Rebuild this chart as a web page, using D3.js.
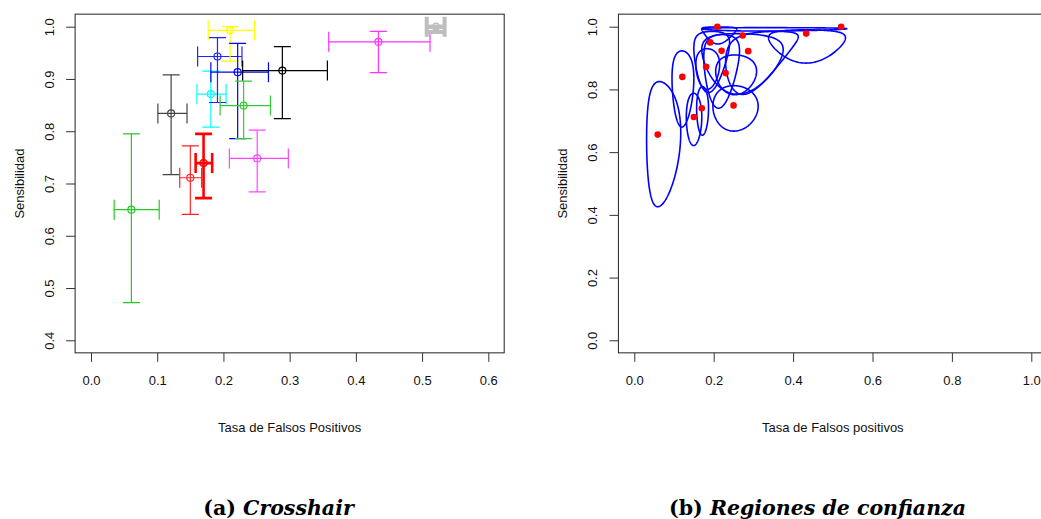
<!DOCTYPE html>
<html>
<head>
<meta charset="utf-8">
<script src="https://cdn.jsdelivr.net/npm/d3@7"></script>
<style>
  body { margin: 0; background: #fff; }
</style>
</head>
<body>
<svg width="1041" height="519"></svg>
<script>
// ---- panel (a): crosshair data, one entry per study
var fpr     = [0.061, 0.121, 0.150, 0.170, 0.181, 0.191, 0.210, 0.2215, 0.2305, 0.251, 0.289, 0.434, 0.521];
var fprLo   = [0.035, 0.101, 0.134, 0.158, 0.160, 0.161, 0.177, 0.181, 0.195, 0.209, 0.229, 0.359, 0.507];
var fprHi   = [0.103, 0.145, 0.167, 0.183, 0.204, 0.228, 0.247, 0.268, 0.271, 0.298, 0.357, 0.512, 0.534];
var sens    = [0.650, 0.834, 0.711, 0.739, 0.871, 0.943, 0.993, 0.913, 0.849, 0.748, 0.916, 0.971, 1.000];
var sensLo  = [0.472, 0.717, 0.641, 0.672, 0.808, 0.855, 0.934, 0.786, 0.786, 0.684, 0.824, 0.912, 0.990];
var sensHi  = [0.795, 0.908, 0.772, 0.795, 0.915, 0.979, 1.000, 0.968, 0.896, 0.802, 0.962, 0.991, 1.000];
var crossCol = ["#22cc22", "#444444", "#ff2222", "#ff0000", "#00ffff", "#2222ff", "#ffff00", "#0000ff", "#33cc33", "#ff44ff", "#000000", "#ff33ff", "#bebebe"];
var crossLw  = [1.2, 1.2, 1.2, 2.6, 1.2, 1.2, 1.2, 1.2, 1.2, 1.2, 1.2, 1.2, 4];

var xTicksA = [0, 0.1, 0.2, 0.3, 0.4, 0.5, 0.6];
var yTicksA = [0.4, 0.5, 0.6, 0.7, 0.8, 0.9, 1.0];

// ---- panel (b): point estimates and confidence regions
var ptFpr  = [0.059, 0.121, 0.150, 0.170, 0.181, 0.191, 0.209, 0.220, 0.230, 0.250, 0.273, 0.287, 0.433, 0.521];
var ptSens = [0.656, 0.840, 0.712, 0.740, 0.872, 0.950, 1.000, 0.923, 0.852, 0.749, 0.972, 0.922, 0.978, 1.000];
// region extents (fpr min/max, sens min/max) and logit-scale correlation
var regFprMin  = [0.031, 0.095, 0.131, 0.157, 0.155, 0.150, 0.170, 0.175, 0.205, 0.198, 0.230, 0.170, 0.338, 0.170];
var regFprMax  = [0.117, 0.150, 0.170, 0.187, 0.215, 0.240, 0.258, 0.265, 0.308, 0.312, 0.413, 0.375, 0.532, 0.535];
var regSensMin = [0.426, 0.680, 0.621, 0.654, 0.800, 0.790, 0.945, 0.740, 0.783, 0.667, 0.784, 0.785, 0.884, 0.986];
var regSensMax = [0.825, 0.923, 0.788, 0.809, 0.930, 0.985, 0.999, 0.975, 0.910, 0.812, 0.985, 0.978, 0.990, 0.997];
var regRho     = [0.05, 0, 0, 0, 0, 0.1, 0, 0.1, 0, 0, 0.46, 0, 0, 0];

var xTicksB = [0, 0.2, 0.4, 0.6, 0.8, 1.0];
var yTicksB = [0, 0.2, 0.4, 0.6, 0.8, 1.0];

var svg = d3.select("svg");
var fmt = d3.format(".1f");
var SANS = "Liberation Sans, Arial, sans-serif";

function frame(g, x, y, xTicks, yTicks, xd, yd, xlab, ylab) {
    // box
    g.append("rect")
        .attr("x", x(xd[0])).attr("y", y(yd[1]))
        .attr("width", x(xd[1]) - x(xd[0]))
        .attr("height", y(yd[0]) - y(yd[1]))
        .attr("fill", "none").attr("stroke", "#222").attr("stroke-width", 1);

    var ax = g.append("g")
        .attr("transform", "translate(0," + y(yd[0]) + ")")
        .call(d3.axisBottom(x).tickValues(xTicks).tickFormat(fmt).tickSize(9).tickPadding(14));
    ax.select(".domain").remove();
    ax.selectAll("line").attr("stroke", "#333");
    ax.selectAll("text").attr("font-size", 13).attr("fill", "#111").attr("font-family", SANS);

    var ay = g.append("g")
        .attr("transform", "translate(" + x(xd[0]) + ",0)")
        .call(d3.axisLeft(y).tickValues(yTicks).tickFormat(fmt).tickSize(9));
    ay.select(".domain").remove();
    ay.selectAll("line").attr("stroke", "#333");
    ay.selectAll("text")
        .attr("x", null).attr("dy", "0.35em")
        .attr("text-anchor", "middle")
        .attr("transform", "translate(-26,0) rotate(-90)")
        .attr("font-size", 13).attr("fill", "#111").attr("font-family", SANS);

    g.append("text")
        .attr("x", (x(xd[0]) + x(xd[1])) / 2).attr("y", 432)
        .attr("text-anchor", "middle").attr("font-size", 13).attr("fill", "#111")
        .attr("font-family", SANS)
        .text(xlab);
    var cy = (y(yd[0]) + y(yd[1])) / 2;
    g.append("text")
        .attr("transform", "translate(" + (x(xd[0]) - 56) + "," + cy + ") rotate(-90)")
        .attr("dy", "0.35em")
        .attr("text-anchor", "middle").attr("font-size", 13).attr("fill", "#111")
        .attr("font-family", SANS)
        .text(ylab);
}

// ---------- panel (a)
var xA = d3.scaleLinear().domain([0, 0.6]).range([91, 488.3]);
var yA = d3.scaleLinear().domain([0.4, 1.0]).range([340.3, 26.7]);
var gA = svg.append("g");
frame(gA, xA, yA, xTicksA, yTicksA, [-0.024, 0.624], [0.376, 1.024],
      "Tasa de Falsos Positivos", "Sensibilidad");

svg.append("clipPath").attr("id", "clipA").append("rect")
    .attr("x", xA(-0.024)).attr("y", yA(1.024))
    .attr("width", xA(0.624) - xA(-0.024)).attr("height", yA(0.376) - yA(1.024));

var cross = gA.append("g").attr("clip-path", "url(#clipA)")
    .selectAll("g").data(d3.range(fpr.length)).enter().append("g")
    .attr("stroke", function(i) { return crossCol[i]; })
    .attr("stroke-width", function(i) { return crossLw[i]; })
    .attr("fill", "none");

// horizontal bars with vertical caps
cross.append("line")
    .attr("x1", function(i) { return xA(fprLo[i]); }).attr("x2", function(i) { return xA(fprHi[i]); })
    .attr("y1", function(i) { return yA(sens[i]); }).attr("y2", function(i) { return yA(sens[i]); });
cross.append("line")
    .attr("x1", function(i) { return xA(fprLo[i]); }).attr("x2", function(i) { return xA(fprLo[i]); })
    .attr("y1", function(i) { return yA(sens[i]) - 10; }).attr("y2", function(i) { return yA(sens[i]) + 10; });
cross.append("line")
    .attr("x1", function(i) { return xA(fprHi[i]); }).attr("x2", function(i) { return xA(fprHi[i]); })
    .attr("y1", function(i) { return yA(sens[i]) - 10; }).attr("y2", function(i) { return yA(sens[i]) + 10; });
// vertical bars with horizontal caps
cross.append("line")
    .attr("x1", function(i) { return xA(fpr[i]); }).attr("x2", function(i) { return xA(fpr[i]); })
    .attr("y1", function(i) { return yA(sensLo[i]); }).attr("y2", function(i) { return yA(sensHi[i]); });
cross.append("line")
    .attr("x1", function(i) { return xA(fpr[i]) - 8.5; }).attr("x2", function(i) { return xA(fpr[i]) + 8.5; })
    .attr("y1", function(i) { return yA(sensLo[i]); }).attr("y2", function(i) { return yA(sensLo[i]); });
cross.append("line")
    .attr("x1", function(i) { return xA(fpr[i]) - 8.5; }).attr("x2", function(i) { return xA(fpr[i]) + 8.5; })
    .attr("y1", function(i) { return yA(sensHi[i]); }).attr("y2", function(i) { return yA(sensHi[i]); });
cross.append("circle")
    .attr("cx", function(i) { return xA(fpr[i]); })
    .attr("cy", function(i) { return yA(sens[i]); })
    .attr("r", 3.5)
    .attr("stroke-width", function(i) { return Math.min(crossLw[i], 1.5); });

// ---------- panel (b)
var xB = d3.scaleLinear().domain([0, 1]).range([634.3, 1031.3]);
var yB = d3.scaleLinear().domain([0, 1]).range([340.3, 26.7]);
var gB = svg.append("g");
frame(gB, xB, yB, xTicksB, yTicksB, [-0.04, 1.04], [-0.04, 1.04],
      "Tasa de Falsos positivos", "Sensibilidad");

var logit = function(p) { return Math.log(p / (1 - p)); };
var expit = function(v) { return 1 / (1 + Math.exp(-v)); };

function regionPoints(i) {
    var mx = (logit(regFprMin[i]) + logit(regFprMax[i])) / 2,
        sx = (logit(regFprMax[i]) - logit(regFprMin[i])) / 2,
        my = (logit(regSensMin[i]) + logit(regSensMax[i])) / 2,
        sy = (logit(regSensMax[i]) - logit(regSensMin[i])) / 2,
        r = regRho[i], s = Math.sqrt(1 - r * r);
    return d3.range(0, 2 * Math.PI, Math.PI / 90).map(function(t) {
        return [expit(mx + sx * Math.cos(t)),
                expit(my + sy * (r * Math.cos(t) + s * Math.sin(t)))];
    });
}

var regionLine = d3.line()
    .x(function(d) { return xB(d[0]); })
    .y(function(d) { return yB(d[1]); })
    .curve(d3.curveLinearClosed);

gB.append("g").selectAll("path")
    .data(d3.range(regFprMin.length)).enter().append("path")
    .attr("d", function(i) { return regionLine(regionPoints(i)); })
    .attr("fill", "none").attr("stroke", "#0000ff").attr("stroke-width", 1.6);

gB.append("g").selectAll("circle")
    .data(d3.range(ptFpr.length)).enter().append("circle")
    .attr("cx", function(i) { return xB(ptFpr[i]); })
    .attr("cy", function(i) { return yB(ptSens[i]); })
    .attr("r", 3.3).attr("fill", "#ff0000");

// ---------- captions
function caption(cx, tag, title) {
    var t = svg.append("text")
        .attr("x", cx).attr("y", 515)
        .attr("text-anchor", "middle")
        .attr("font-family", "DejaVu Serif, serif")
        .attr("font-weight", "bold").attr("font-size", 20.5).attr("fill", "#000");
    t.append("tspan").text(tag + " ");
    t.append("tspan").attr("font-style", "italic").text(title);
}
caption(278.5, "(a)", "Crosshair");
caption(817.5, "(b)", "Regiones de confianza");
</script>
</body>
</html>
